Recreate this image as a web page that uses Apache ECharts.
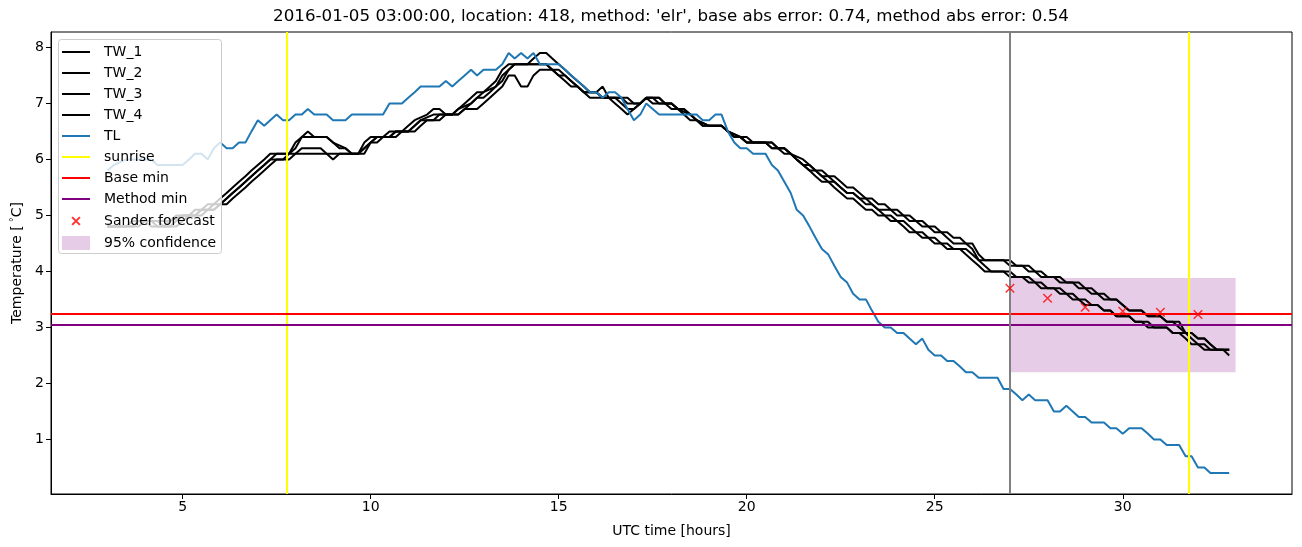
<!DOCTYPE html>
<html><head><meta charset="utf-8">
<script src="https://cdn.jsdelivr.net/npm/echarts@6/dist/echarts.min.js"></script>
<style>html,body{margin:0;padding:0;background:#fff}#c{width:1302px;height:547px}</style>
</head><body><div id="c"></div>
<script>
// [hour, value] pairs
const tw1 = [[3.0,4.8],[3.5,4.8],[3.67,4.9],[4.5,4.9],[4.67,4.9],[4.83,5.0],[5.17,5.0],[5.33,5.1],[5.5,5.1],[5.67,5.2],[5.83,5.2],[6.0,5.3],[6.17,5.4],[6.33,5.5],[6.5,5.6],[6.67,5.7],[6.83,5.8],[7.0,5.9],[7.17,6.0],[7.33,6.1],[7.83,6.1],[8.0,6.3],[8.17,6.4],[8.33,6.5],[8.5,6.4],[8.83,6.4],[9.0,6.3],[9.17,6.2],[9.33,6.2],[9.5,6.1],[9.67,6.1],[9.83,6.3],[10.0,6.4],[10.33,6.4],[10.5,6.5],[10.83,6.5],[11.0,6.6],[11.17,6.7],[11.5,6.8],[11.67,6.9],[11.83,6.9],[12.0,6.8],[12.17,6.8],[12.33,6.9],[12.5,7.0],[12.67,7.1],[12.83,7.2],[13.0,7.2],[13.17,7.3],[13.33,7.4],[13.5,7.6],[13.67,7.7],[14.17,7.7],[14.33,7.8],[14.5,7.9],[14.67,7.9],[14.83,7.8],[15.0,7.7],[15.17,7.6],[15.33,7.5],[15.5,7.4],[15.67,7.3],[15.83,7.2],[16.0,7.2],[16.17,7.1],[16.67,7.1],[16.83,7.0],[17.17,7.0],[17.33,7.1],[17.67,7.1],[17.83,7.0],[18.0,7.0],[18.17,6.9],[18.33,6.8],[18.5,6.7],[18.67,6.7],[18.83,6.6],[19.33,6.6],[19.5,6.5],[19.67,6.4],[19.83,6.4],[20.0,6.3],[20.5,6.3],[20.67,6.2],[21.0,6.2],[21.17,6.1],[21.33,6.0],[21.5,5.9],[21.67,5.8],[21.83,5.8],[22.0,5.7],[22.17,5.7],[22.33,5.6],[22.5,5.5],[22.67,5.4],[22.83,5.4],[23.0,5.3],[23.17,5.3],[23.33,5.2],[23.5,5.1],[23.83,5.1],[24.0,5.0],[24.17,5.0],[24.33,4.9],[24.5,4.9],[24.67,4.8],[24.83,4.8],[25.0,4.7],[25.17,4.7],[25.33,4.6],[25.5,4.5],[25.83,4.5],[26.0,4.4],[26.17,4.2],[26.83,4.2],[27.0,4.1],[27.33,4.1],[27.5,4.0],[27.67,4.0],[27.83,3.9],[28.17,3.9],[28.33,3.8],[28.67,3.8],[28.83,3.7],[29.0,3.7],[29.17,3.6],[29.33,3.6],[29.5,3.5],[29.83,3.5],[30.0,3.4],[30.17,3.3],[30.5,3.3],[30.67,3.2],[31.0,3.2],[31.17,3.1],[31.33,3.1],[31.5,3.0],[31.67,2.9],[31.83,2.9],[32.0,2.8],[32.17,2.8],[32.33,2.7],[32.5,2.6],[32.83,2.6]];
const tw2 = [[3.0,4.8],[3.67,4.8],[3.83,4.9],[4.33,4.9],[4.5,4.8],[4.67,4.9],[5.0,5.0],[5.33,5.0],[5.5,5.1],[5.67,5.1],[5.83,5.2],[6.0,5.2],[6.17,5.3],[6.33,5.4],[6.5,5.5],[6.67,5.6],[6.83,5.7],[7.0,5.8],[7.17,5.9],[7.33,6.0],[7.5,6.1],[7.83,6.1],[8.0,6.2],[8.17,6.4],[8.83,6.4],[9.0,6.3],[9.33,6.2],[9.5,6.1],[9.83,6.1],[10.0,6.3],[10.17,6.4],[10.5,6.4],[10.67,6.5],[11.0,6.5],[11.17,6.6],[11.33,6.7],[11.67,6.8],[12.17,6.8],[12.33,6.9],[12.67,7.0],[12.83,7.1],[13.0,7.2],[13.33,7.3],[13.5,7.5],[13.67,7.6],[13.83,7.7],[14.67,7.7],[14.83,7.6],[15.0,7.6],[15.17,7.5],[15.33,7.4],[15.5,7.3],[15.67,7.2],[15.83,7.2],[16.0,7.2],[16.17,7.3],[16.33,7.1],[16.83,7.1],[17.0,7.0],[17.17,7.0],[17.33,7.1],[17.5,7.1],[17.67,7.0],[18.0,7.0],[18.17,6.9],[18.33,6.9],[18.5,6.8],[18.67,6.7],[19.0,6.6],[19.33,6.6],[19.5,6.5],[19.83,6.4],[20.0,6.3],[20.67,6.3],[20.83,6.2],[21.0,6.2],[21.17,6.1],[21.5,6.0],[21.67,5.9],[21.83,5.8],[22.0,5.8],[22.17,5.7],[22.33,5.7],[22.5,5.6],[22.67,5.5],[22.83,5.5],[23.0,5.4],[23.17,5.3],[23.33,5.3],[23.5,5.2],[23.67,5.2],[23.83,5.1],[24.0,5.1],[24.17,5.0],[24.33,5.0],[24.5,4.9],[24.67,4.9],[24.83,4.8],[25.0,4.8],[25.17,4.7],[25.33,4.7],[25.5,4.6],[25.67,4.6],[25.83,4.5],[26.0,4.5],[26.17,4.3],[26.33,4.2],[27.0,4.2],[27.17,4.1],[27.5,4.1],[27.67,4.0],[27.83,4.0],[28.0,3.9],[28.33,3.9],[28.5,3.8],[28.83,3.8],[29.0,3.7],[29.17,3.7],[29.33,3.6],[29.5,3.6],[29.67,3.5],[29.83,3.5],[30.0,3.4],[30.17,3.3],[30.5,3.3],[30.67,3.2],[31.0,3.2],[31.17,3.1],[31.5,3.1],[31.67,2.9],[31.83,2.9],[32.0,2.8],[32.17,2.8],[32.33,2.7],[32.5,2.6],[32.83,2.6]];
const tw3 = [[3.0,4.8],[3.5,4.8],[3.67,4.9],[4.0,4.9],[4.17,4.8],[4.67,4.8],[4.83,4.9],[5.0,5.0],[5.33,5.0],[5.5,5.1],[5.83,5.1],[6.0,5.2],[6.17,5.3],[6.33,5.4],[6.5,5.5],[6.67,5.6],[6.83,5.7],[7.0,5.8],[7.17,5.9],[7.33,6.0],[7.83,6.0],[8.0,6.1],[8.17,6.2],[8.67,6.2],[8.83,6.1],[9.67,6.1],[9.83,6.2],[10.0,6.3],[10.17,6.4],[10.5,6.4],[10.67,6.5],[11.0,6.5],[11.17,6.6],[11.33,6.7],[11.67,6.7],[11.83,6.8],[12.33,6.8],[12.5,6.9],[12.67,7.0],[12.83,7.1],[13.0,7.1],[13.17,7.2],[13.33,7.3],[13.5,7.4],[13.67,7.6],[13.83,7.7],[14.67,7.7],[14.83,7.6],[15.0,7.5],[15.17,7.5],[15.33,7.4],[15.5,7.3],[15.67,7.2],[16.0,7.2],[16.17,7.1],[16.5,7.1],[16.67,7.0],[16.83,6.9],[17.0,6.9],[17.17,7.0],[17.33,7.1],[17.67,7.1],[17.83,7.0],[18.0,6.9],[18.33,6.9],[18.5,6.8],[18.67,6.7],[18.83,6.6],[19.33,6.6],[19.5,6.5],[19.67,6.4],[20.0,6.4],[20.17,6.3],[20.5,6.3],[20.67,6.2],[21.0,6.2],[21.17,6.1],[21.33,6.0],[21.5,5.9],[21.67,5.8],[21.83,5.7],[22.0,5.6],[22.17,5.6],[22.33,5.5],[22.5,5.4],[22.67,5.3],[22.83,5.3],[23.0,5.2],[23.17,5.1],[23.33,5.1],[23.5,5.0],[23.67,5.0],[23.83,4.9],[24.0,4.9],[24.17,4.8],[24.33,4.7],[24.5,4.7],[24.67,4.6],[24.83,4.6],[25.0,4.5],[25.17,4.5],[25.33,4.4],[25.67,4.4],[25.83,4.3],[26.0,4.2],[26.17,4.1],[26.33,4.0],[26.83,4.0],[27.0,3.9],[27.33,3.9],[27.5,3.8],[27.67,3.8],[27.83,3.7],[28.17,3.7],[28.33,3.6],[28.5,3.6],[28.67,3.5],[28.83,3.5],[29.0,3.4],[29.33,3.4],[29.5,3.3],[29.67,3.3],[29.83,3.2],[30.17,3.2],[30.33,3.1],[30.5,3.1],[30.67,3.0],[31.17,3.0],[31.33,2.9],[31.5,2.9],[31.67,2.8],[31.83,2.7],[32.0,2.7],[32.17,2.6],[32.83,2.6]];
const tw4 = [[3.0,4.8],[3.83,4.8],[4.0,4.9],[4.17,4.9],[4.33,4.8],[4.83,4.8],[5.0,4.9],[5.17,5.0],[5.5,5.0],[5.67,5.1],[5.83,5.1],[6.0,5.2],[6.17,5.2],[6.33,5.3],[6.5,5.4],[6.67,5.5],[6.83,5.6],[7.0,5.7],[7.17,5.8],[7.33,5.9],[7.5,6.0],[7.67,6.0],[7.83,6.1],[8.83,6.1],[9.0,6.0],[9.17,6.1],[9.67,6.1],[9.83,6.2],[10.0,6.3],[10.17,6.3],[10.33,6.4],[10.67,6.4],[10.83,6.5],[11.17,6.5],[11.33,6.6],[11.5,6.7],[11.83,6.7],[12.0,6.8],[12.33,6.8],[12.5,6.9],[12.83,6.9],[13.0,7.0],[13.17,7.1],[13.33,7.2],[13.5,7.3],[13.67,7.5],[13.83,7.5],[14.0,7.3],[14.17,7.3],[14.33,7.5],[14.5,7.6],[14.83,7.6],[15.0,7.5],[15.17,7.4],[15.33,7.3],[15.5,7.3],[15.67,7.2],[15.83,7.1],[16.33,7.1],[16.5,7.0],[16.67,6.9],[16.83,6.8],[17.0,6.9],[17.17,7.0],[17.33,7.1],[17.5,7.0],[18.0,7.0],[18.17,6.9],[18.5,6.8],[18.67,6.7],[19.0,6.6],[19.33,6.6],[19.5,6.5],[19.83,6.4],[20.0,6.3],[20.67,6.3],[20.83,6.2],[21.0,6.1],[21.17,6.1],[21.33,6.0],[21.5,5.9],[21.67,5.9],[21.83,5.8],[22.0,5.7],[22.17,5.6],[22.33,5.6],[22.5,5.5],[22.67,5.4],[22.83,5.4],[23.0,5.3],[23.17,5.2],[23.33,5.2],[23.5,5.1],[23.67,5.0],[23.83,5.0],[24.0,4.9],[24.17,4.9],[24.33,4.8],[24.5,4.7],[24.67,4.7],[24.83,4.6],[25.0,4.6],[25.17,4.5],[25.33,4.5],[25.5,4.4],[25.83,4.4],[26.0,4.3],[26.17,4.2],[26.33,4.1],[26.5,4.0],[27.0,4.0],[27.17,3.9],[27.5,3.9],[27.67,3.8],[27.83,3.8],[28.0,3.7],[28.33,3.7],[28.5,3.6],[28.67,3.6],[28.83,3.5],[29.0,3.5],[29.17,3.4],[29.33,3.4],[29.5,3.3],[29.67,3.3],[29.83,3.2],[30.17,3.2],[30.33,3.1],[30.67,3.1],[30.83,3.0],[31.17,3.0],[31.33,2.9],[31.67,2.9],[31.83,2.8],[32.0,2.7],[32.17,2.7],[32.33,2.6],[32.67,2.6],[32.83,2.5]];
const tl = [[3.0,5.8],[3.17,5.9],[3.5,6.0],[4.17,6.0],[4.33,5.9],[5.0,5.9],[5.17,6.0],[5.33,6.1],[5.5,6.1],[5.67,6.0],[5.83,6.2],[6.0,6.3],[6.17,6.2],[6.33,6.2],[6.5,6.3],[6.67,6.3],[6.83,6.5],[7.0,6.7],[7.17,6.6],[7.33,6.7],[7.5,6.8],[7.67,6.7],[7.83,6.7],[8.0,6.8],[8.17,6.8],[8.33,6.9],[8.5,6.8],[8.83,6.8],[9.0,6.7],[9.33,6.7],[9.5,6.8],[10.33,6.8],[10.5,7.0],[10.83,7.0],[11.0,7.1],[11.17,7.2],[11.33,7.3],[11.83,7.3],[12.0,7.4],[12.17,7.3],[12.33,7.4],[12.5,7.5],[12.67,7.6],[12.83,7.5],[13.0,7.6],[13.33,7.6],[13.5,7.7],[13.67,7.9],[13.83,7.8],[14.0,7.9],[14.17,7.8],[14.33,7.9],[14.5,7.7],[15.0,7.7],[15.17,7.6],[15.5,7.4],[15.67,7.3],[15.83,7.2],[16.0,7.2],[16.17,7.1],[16.33,7.2],[16.5,7.2],[16.67,7.1],[16.83,6.9],[17.0,6.7],[17.17,6.8],[17.33,7.0],[17.5,6.9],[17.67,6.8],[18.67,6.8],[18.83,6.7],[19.0,6.7],[19.17,6.8],[19.33,6.8],[19.5,6.5],[19.67,6.3],[19.83,6.2],[20.0,6.2],[20.17,6.1],[20.5,6.1],[20.67,5.9],[20.83,5.8],[21.0,5.6],[21.17,5.4],[21.33,5.1],[21.5,5.0],[21.67,4.8],[21.83,4.6],[22.0,4.4],[22.17,4.3],[22.33,4.1],[22.5,3.9],[22.67,3.8],[22.83,3.6],[23.0,3.5],[23.17,3.5],[23.33,3.3],[23.5,3.1],[23.67,3.0],[23.83,3.0],[24.0,2.9],[24.17,2.9],[24.33,2.8],[24.5,2.7],[24.67,2.8],[24.83,2.6],[25.0,2.5],[25.17,2.5],[25.33,2.4],[25.5,2.4],[25.67,2.3],[25.83,2.2],[26.0,2.2],[26.17,2.1],[26.67,2.1],[26.83,1.9],[27.0,1.9],[27.17,1.8],[27.33,1.7],[27.5,1.8],[27.67,1.7],[28.0,1.7],[28.17,1.5],[28.33,1.5],[28.5,1.6],[28.67,1.5],[28.83,1.4],[29.0,1.4],[29.17,1.3],[29.5,1.3],[29.67,1.2],[29.83,1.2],[30.0,1.1],[30.17,1.2],[30.5,1.2],[30.67,1.1],[30.83,1.0],[31.0,1.0],[31.17,0.9],[31.5,0.9],[31.67,0.7],[31.83,0.7],[32.0,0.5],[32.17,0.5],[32.33,0.4],[32.83,0.4]];
const sanderHours = [27, 28, 29, 30, 31, 32];
const sanderValues = [3.70, 3.52, 3.36, 3.29, 3.27, 3.23];
const sunriseHours = [7.78, 31.76];
const nowHour = 27;
const baseMin = 3.24;
const methodMin = 3.04;
const confidenceHours = [27, 33];
const confidenceRange = [2.2, 3.88];
const xTicks = [5, 10, 15, 20, 25, 30];
const yTicks = [1, 2, 3, 4, 5, 6, 7, 8];
const titleText = "2016-01-05 03:00:00, location: 418, method: 'elr', base abs error: 0.74, method abs error: 0.54";

const FONT = 'DejaVu Sans';
const chart = echarts.init(document.getElementById('c'), null, {renderer: 'canvas'});

function lineSeries(name, data, color, z) {
  return {name, type: 'line', data, symbol: 'none', showSymbol: false, z: z,
    itemStyle: {color}, lineStyle: {color, width: 2}, animation: false, silent: true};
}
function markLineSeries(name, color, lines, z) {
  return {name, type: 'line', data: [], symbol: 'none', z: z,
    itemStyle: {color}, lineStyle: {color, width: 2}, animation: false, silent: true,
    markLine: {silent: true, symbol: 'none', animation: false, label: {show: false},
      lineStyle: {color, width: 2, type: 'solid'}, data: lines}};
}
const legendText = {fontFamily: FONT, fontSize: 14, color: '#000', lineHeight: 14, padding: [0, 0, 0, 9]};

const option = {
  animation: false,
  backgroundColor: '#fff',
  textStyle: {fontFamily: FONT},
  title: {text: titleText, left: 671, top: 8, textAlign: 'center', padding: 0,
    textStyle: {fontFamily: FONT, fontSize: 16.7, fontWeight: 'normal', color: '#000'}},
  grid: {left: 51, right: 10, top: 32, bottom: 53, show: true, borderColor: '#000', borderWidth: 1, containLabel: false, outerBoundsMode: 'none'},
  graphic: [{type: 'rect', z: 100, silent: true,
    shape: {x: 58.5, y: 39.5, width: 163, height: 214, r: 3},
    style: {fill: 'rgba(255,255,255,0.8)', stroke: '#cccccc', lineWidth: 1}}],
  legend: [
    {
      z: 110, orient: 'vertical', left: 58, top: 39, padding: [6, 0, 0, 4],
      itemWidth: 28, itemHeight: 2, itemGap: 7, icon: 'rect',
      backgroundColor: 'transparent', selectedMode: false, textStyle: legendText,
      data: ['TW_1', 'TW_2', 'TW_3', 'TW_4', 'TL', 'sunrise', 'Base min', 'Method min']
    },
    {
      z: 110, orient: 'vertical', left: 58, top: 213, padding: [0, 0, 0, 4],
      itemWidth: 28, itemHeight: 14, itemGap: 7,
      backgroundColor: 'transparent', selectedMode: false, textStyle: legendText,
      data: [
        {name: 'Sander forecast', icon: 'path://M0,0L10,10M10,0L0,10M-4,-4M14,14'},
        {name: '95% confidence', icon: 'rect', itemStyle: {color: 'rgba(128,0,128,0.2)'}}
      ]
    }
  ],
  xAxis: {
    type: 'value', min: 1.5, max: 34.5,
    name: 'UTC time [hours]', nameLocation: 'middle', nameGap: 30,
    nameTextStyle: {fontFamily: FONT, fontSize: 14, color: '#000'},
    axisLine: {show: true, onZero: false, lineStyle: {color: '#000', width: 1}},
    axisTick: {show: true, inside: false, length: 5, customValues: xTicks, lineStyle: {color: '#000', width: 1}},
    axisLabel: {customValues: xTicks, fontFamily: FONT, fontSize: 14, color: '#000', margin: 6},
    splitLine: {show: false}
  },
  yAxis: {
    type: 'value', min: 0.025, max: 8.275,
    name: 'Temperature [{sup|°}C]', nameLocation: 'middle', nameGap: 26,
    nameTextStyle: {fontFamily: FONT, fontSize: 14, color: '#000',
      rich: {sup: {fontFamily: FONT, fontSize: 10, color: '#000', verticalAlign: 'top', padding: [0, 0, 6, 3]}}},
    axisLine: {show: true, onZero: false, lineStyle: {color: '#000', width: 1}},
    axisTick: {show: true, inside: false, length: 5, customValues: yTicks, lineStyle: {color: '#000', width: 1}},
    axisLabel: {customValues: yTicks, fontFamily: FONT, fontSize: 14, color: '#000', margin: 7},
    splitLine: {show: false}
  },
  series: [
    {name: '95% confidence', type: 'custom', z: 1, silent: true, animation: false,
      itemStyle: {color: 'rgba(128,0,128,0.2)'},
      encode: {x: [0, 1], y: [2, 3]},
      data: [[confidenceHours[0], confidenceHours[1], confidenceRange[0], confidenceRange[1]]],
      renderItem: function (params, api) {
        const p1 = api.coord([api.value(0), api.value(3)]);
        const p2 = api.coord([api.value(1), api.value(2)]);
        return {type: 'rect', shape: {x: p1[0], y: p1[1], width: p2[0] - p1[0], height: p2[1] - p1[1]},
          style: {fill: 'rgba(128,0,128,0.2)'}};
      }
    },
    lineSeries('TW_1', tw1, '#000000', 3),
    lineSeries('TW_2', tw2, '#000000', 3),
    lineSeries('TW_3', tw3, '#000000', 3),
    lineSeries('TW_4', tw4, '#000000', 3),
    lineSeries('TL', tl, '#1f77b4', 4),
    markLineSeries('sunrise', '#ffff00', sunriseHours.map(h => ({xAxis: h})), 5),
    markLineSeries('Base min', '#ff0000', [{yAxis: baseMin}], 5),
    markLineSeries('Method min', '#800080', [{yAxis: methodMin}], 5),
    markLineSeries('now', '#808080', [{xAxis: nowHour}], 5),
    {name: 'Sander forecast', type: 'scatter', z: 6, silent: true, animation: false,
      symbol: 'path://M0,0L10,10M10,0L0,10', symbolSize: 8.5, symbolKeepAspect: true,
      itemStyle: {color: 'rgba(0,0,0,0)', borderColor: '#ff0000', borderWidth: 1.5},
      data: sanderHours.map((h, i) => [h, sanderValues[i]])}
  ]
};
chart.setOption(option);
</script></body></html>
